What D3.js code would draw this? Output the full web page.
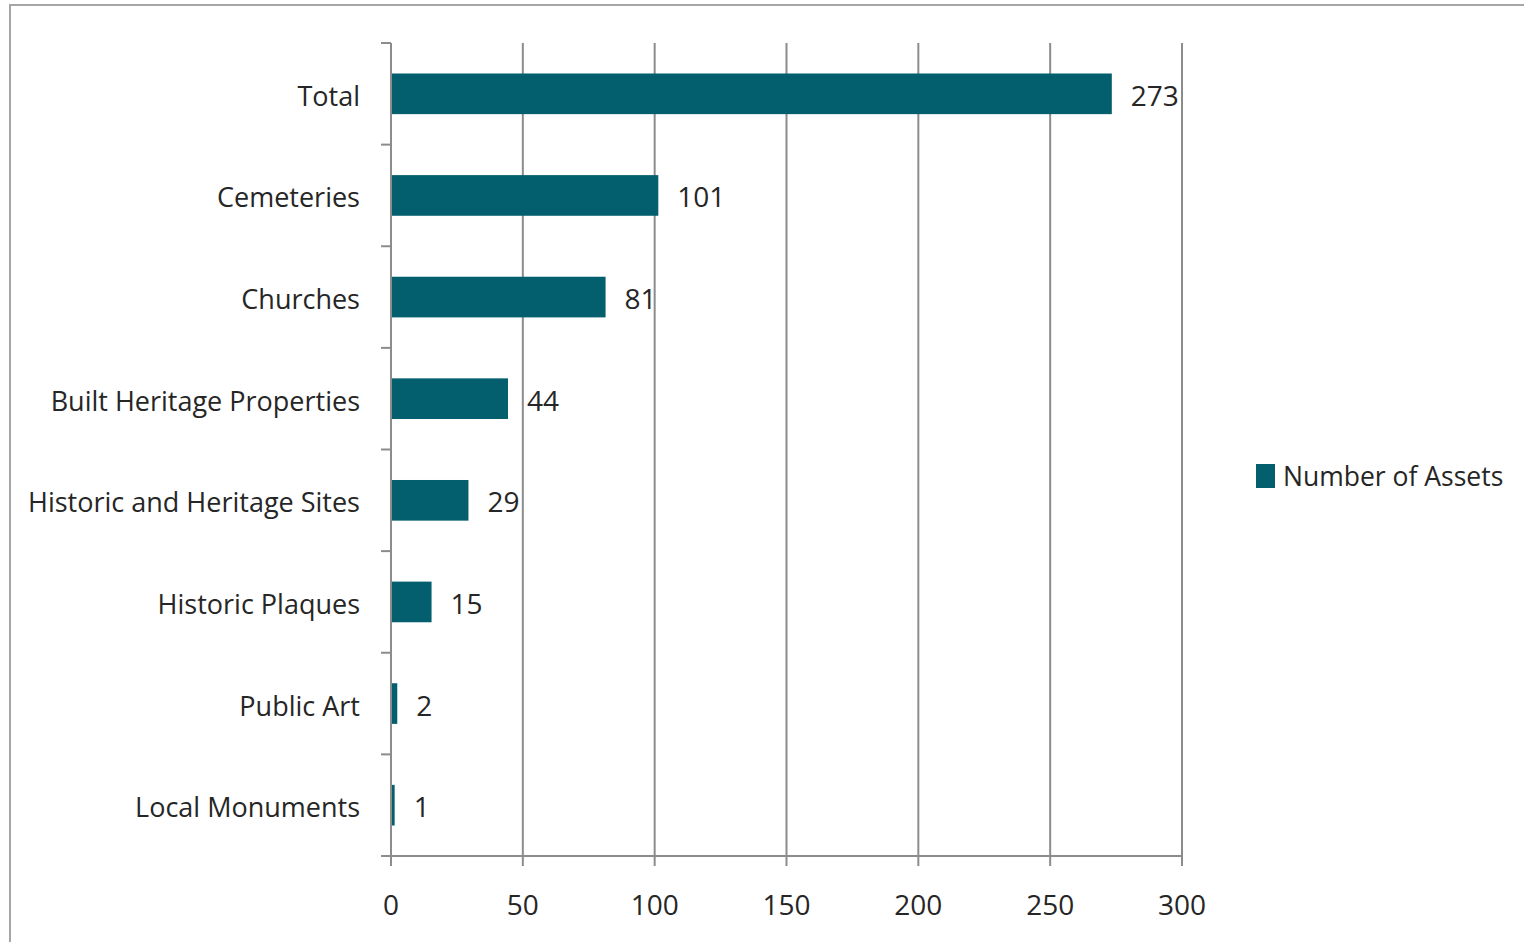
<!DOCTYPE html>
<html>
<head>
  <meta charset="UTF-8">
  <style>
    body { margin: 0; background: #fff; }
    svg { display: block; }
    text { font-family: "Open Sans", sans-serif; fill: #262626; }
  </style>
</head>
<body>
<svg></svg>
<script src="https://d3js.org/d3.v7.min.js"></script>
<script>

let width = 1524, height = 942;

// data
let categories = ["Total", "Cemeteries", "Churches", "Built Heritage Properties",
    "Historic and Heritage Sites", "Historic Plaques", "Public Art", "Local Monuments"];
let values = [273, 101, 81, 44, 29, 15, 2, 1];
let xTicks = [0, 50, 100, 150, 200, 250, 300];
let seriesName = "Number of Assets";

let barColor = "#035f6e";
let axisColor = "#8c8c8c";

let svg = d3.select("svg")
    .attr("width", width)
    .attr("height", height);

// outer chart border
svg.append("rect")
    .attr("x", 10).attr("y", 5)
    .attr("width", width + 20).attr("height", height + 20)
    .attr("fill", "none")
    .attr("stroke", "#a6a6a6")
    .attr("stroke-width", 2);

let plotLeft = 391, plotRight = 1182, plotTop = 43, plotBottom = 856;

let x = d3.scaleLinear().domain([0, 300]).range([plotLeft, plotRight]);
let y = d3.scaleBand().domain(categories).range([plotTop, plotBottom])
    .paddingInner(0.6).paddingOuter(0.3);

// vertical gridlines
svg.append("g")
    .selectAll("line")
    .data(xTicks.slice(1))
    .enter()
        .append("line")
        .attr("x1", d => x(d)).attr("x2", d => x(d))
        .attr("y1", plotTop).attr("y2", plotBottom + 10)
        .attr("stroke", axisColor)
        .attr("stroke-width", 2);

// x axis line + y axis line
svg.append("line")
    .attr("x1", plotLeft - 10).attr("x2", plotRight)
    .attr("y1", plotBottom).attr("y2", plotBottom)
    .attr("stroke", axisColor).attr("stroke-width", 2);

svg.append("line")
    .attr("x1", plotLeft).attr("x2", plotLeft)
    .attr("y1", plotTop).attr("y2", plotBottom + 10)
    .attr("stroke", axisColor).attr("stroke-width", 2);

svg.append("g")
    .selectAll("text")
    .data(xTicks)
    .enter()
        .append("text")
        .attr("x", d => x(d))
        .attr("y", 915)
        .attr("text-anchor", "middle")
        .style("font-size", "28px")
        .text(d => d);

// y axis ticks at band boundaries
let boundaries = d3.range(categories.length + 1)
    .map(i => plotTop + i * (plotBottom - plotTop) / categories.length);
svg.append("g")
    .selectAll("line")
    .data(boundaries)
    .enter()
        .append("line")
        .attr("x1", plotLeft - 10).attr("x2", plotLeft)
        .attr("y1", d => d).attr("y2", d => d)
        .attr("stroke", axisColor).attr("stroke-width", 2);

// bars
svg.append("g")
    .selectAll("rect")
    .data(values)
    .enter()
        .append("rect")
        .attr("x", x(0) + 1)
        .attr("y", (d, i) => y(categories[i]))
        .attr("width", d => x(d) - x(0))
        .attr("height", y.bandwidth())
        .attr("fill", barColor);

// value labels
svg.append("g")
    .selectAll("text")
    .data(values)
    .enter()
        .append("text")
        .attr("x", d => x(d) + 20)
        .attr("y", (d, i) => y(categories[i]) + y.bandwidth() / 2 + 12)
        .style("font-size", "28px")
        .text(d => d);

// category labels
svg.append("g")
    .selectAll("text")
    .data(categories)
    .enter()
        .append("text")
        .attr("x", 360)
        .attr("y", d => y(d) + y.bandwidth() / 2 + 12)
        .attr("text-anchor", "end")
        .style("font-size", "27px")
        .text(d => d);

// legend
let legend = svg.append("g").attr("transform", "translate(1256,464)");
legend.append("rect")
    .attr("width", 19).attr("height", 24)
    .attr("fill", barColor);
legend.append("text")
    .attr("x", 27).attr("y", 22)
    .style("font-size", "26.5px")
    .text(seriesName);

</script>
</body>
</html>
